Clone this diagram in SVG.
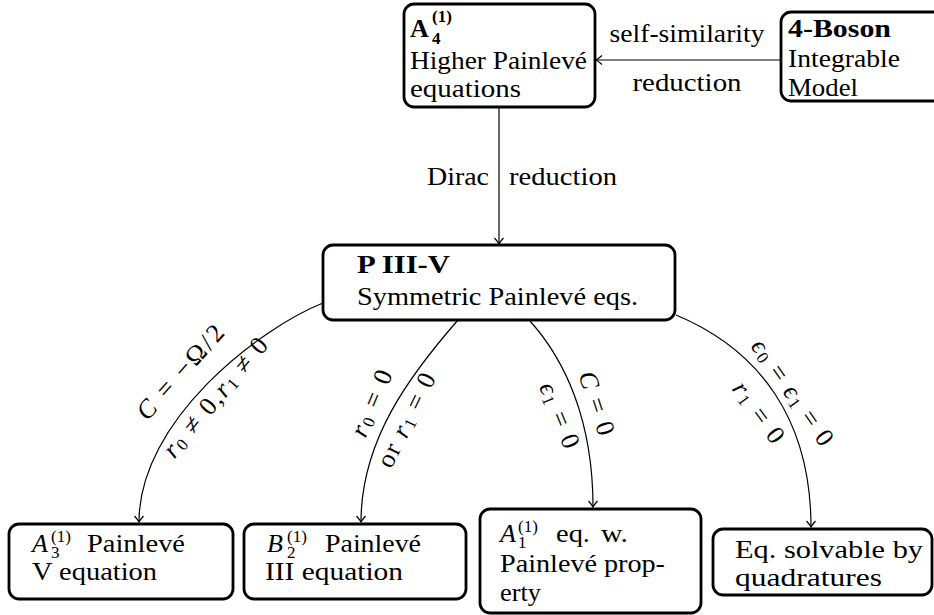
<svg xmlns="http://www.w3.org/2000/svg" width="934" height="615" viewBox="0 0 934 615">
<style>
text { font-family: "Liberation Serif", "DejaVu Serif", serif; font-size: 26px; fill: #000; }
.b { font-weight: bold; }
.i { font-style: italic; }
.s { font-size: 17px; }
.box { fill: #fff; stroke: #000; stroke-width: 2.8; }
.edge { fill: none; stroke: #000; stroke-width: 1.2; marker-end: url(#arr); }
.lbl { text-anchor: middle; dominant-baseline: central; }
</style>
<defs>
<marker id="arr" markerUnits="userSpaceOnUse" viewBox="-8 -6 10 12" refX="0" refY="0" markerWidth="10" markerHeight="12" orient="auto">
<path d="M-6,-4.5 Q-2,-1 0,0 Q-2,1 -6,4.5" fill="none" stroke="#000" stroke-width="1.2"/>
</marker>
</defs>
<rect width="934" height="615" fill="#fff"/>

<g id="connectors">
<path class="edge" d="M781,60 L596,60"/>
<path class="edge" d="M499,107 L499,244"/>
<path class="edge" d="M323,303 C260,328 139,420 139,522"/>
<path class="edge" d="M458,320 C410,375 361,440 361,522"/>
<path class="edge" d="M530,321 C565,360 593,420 593,507"/>
<path class="edge" d="M676,315 C760,350 811,420 811,527"/>
<text x="687" y="42" text-anchor="middle" textLength="155" lengthAdjust="spacingAndGlyphs">self-similarity</text>
<text x="687" y="91" text-anchor="middle" textLength="109" lengthAdjust="spacingAndGlyphs">reduction</text>
<text x="427" y="185" textLength="62" lengthAdjust="spacingAndGlyphs">Dirac</text>
<text x="509" y="185" textLength="108" lengthAdjust="spacingAndGlyphs">reduction</text>
<text class="lbl" transform="translate(180,372) rotate(-48)" textLength="118" lengthAdjust="spacing"><tspan class="i">C</tspan> = −Ω/2</text>
<text class="lbl" transform="translate(215,397) rotate(-50)" textLength="148" lengthAdjust="spacing"><tspan class="i">r</tspan><tspan class="s" dy="5">0</tspan><tspan dy="-5"> ≠ 0,</tspan><tspan class="i">r</tspan><tspan class="s" dy="5">1</tspan><tspan dy="-5"> ≠ 0</tspan></text>
<text class="lbl" transform="translate(371,403) rotate(-67)" textLength="70" lengthAdjust="spacing"><tspan class="i">r</tspan><tspan class="s" dy="5">0</tspan><tspan dy="-5"> = 0</tspan></text>
<text class="lbl" transform="translate(406,420) rotate(-64)" textLength="102" lengthAdjust="spacing">or <tspan class="i">r</tspan><tspan class="s" dy="5">1</tspan><tspan dy="-5"> = 0</tspan></text>
<text class="lbl" transform="translate(597,403) rotate(72)" textLength="66" lengthAdjust="spacing"><tspan class="i">C</tspan> = 0</text>
<text class="lbl" transform="translate(560,415) rotate(68)" textLength="69" lengthAdjust="spacing"><tspan class="i">ϵ</tspan><tspan class="s" dy="5">1</tspan><tspan dy="-5"> = 0</tspan></text>
<text class="lbl" transform="translate(793,392) rotate(55)" textLength="124" lengthAdjust="spacing"><tspan class="i">ϵ</tspan><tspan class="s" dy="5">0</tspan><tspan dy="-5"> = </tspan><tspan class="i">ϵ</tspan><tspan class="s" dy="5">1</tspan><tspan dy="-5"> = 0</tspan></text>
<text class="lbl" transform="translate(759,412) rotate(54)" textLength="70" lengthAdjust="spacing"><tspan class="i">r</tspan><tspan class="s" dy="5">1</tspan><tspan dy="-5"> = 0</tspan></text>
</g>

<g id="node-a4">
<rect class="box" x="404" y="4" width="191" height="103" rx="10"/>
<text><tspan x="410" y="37" class="b">A</tspan><tspan x="432" y="22" class="b s">(1)</tspan><tspan x="432" y="44" class="b s">4</tspan></text>
<text x="410" y="69" textLength="177" lengthAdjust="spacingAndGlyphs">Higher Painlevé</text>
<text x="410" y="97" textLength="111" lengthAdjust="spacingAndGlyphs">equations</text>
</g>

<g id="node-boson">
<rect class="box" x="781" y="12" width="180" height="89" rx="10"/>
<text x="788" y="37" class="b" textLength="103" lengthAdjust="spacingAndGlyphs">4-Boson</text>
<text x="788" y="67" textLength="112" lengthAdjust="spacingAndGlyphs">Integrable</text>
<text x="788" y="96" textLength="70" lengthAdjust="spacingAndGlyphs">Model</text>
</g>

<g id="node-p35">
<rect class="box" x="323" y="245" width="352" height="75" rx="10"/>
<text x="357" y="273" class="b" textLength="93" lengthAdjust="spacingAndGlyphs">P III-V</text>
<text x="357" y="305" textLength="281" lengthAdjust="spacingAndGlyphs">Symmetric Painlevé eqs.</text>
</g>

<g id="node-a3">
<rect class="box" x="9" y="524" width="224" height="75" rx="10"/>
<text><tspan x="32" y="552" class="i">A</tspan><tspan x="51" y="542" class="s">(1)</tspan><tspan x="51" y="558" class="s">3</tspan></text>
<text x="87" y="552" textLength="98" lengthAdjust="spacingAndGlyphs">Painlevé</text>
<text x="32" y="580" textLength="125" lengthAdjust="spacingAndGlyphs">V equation</text>
</g>

<g id="node-b2">
<rect class="box" x="244" y="524" width="222" height="75" rx="10"/>
<text><tspan x="267" y="552" class="i">B</tspan><tspan x="287" y="542" class="s">(1)</tspan><tspan x="287" y="558" class="s">2</tspan></text>
<text x="325" y="552" textLength="96" lengthAdjust="spacingAndGlyphs">Painlevé</text>
<text x="265" y="580" textLength="138" lengthAdjust="spacingAndGlyphs">III equation</text>
</g>

<g id="node-a1">
<rect class="box" x="480" y="509" width="221" height="104" rx="10"/>
<text><tspan x="500" y="542" class="i">A</tspan><tspan x="518" y="532" class="s">(1)</tspan><tspan x="518" y="548" class="s">1</tspan></text>
<text x="556" y="542" textLength="34" lengthAdjust="spacingAndGlyphs">eq.</text>
<text x="601" y="542" textLength="27" lengthAdjust="spacingAndGlyphs">w.</text>
<text x="500" y="572" textLength="165" lengthAdjust="spacingAndGlyphs">Painlevé prop-</text>
<text x="500" y="601" textLength="41" lengthAdjust="spacingAndGlyphs">erty</text>
</g>

<g id="node-quad">
<rect class="box" x="713" y="529" width="219" height="66" rx="10"/>
<text x="735" y="558" textLength="188" lengthAdjust="spacingAndGlyphs">Eq. solvable by</text>
<text x="735" y="586" textLength="147" lengthAdjust="spacingAndGlyphs">quadratures</text>
</g>
</svg>
